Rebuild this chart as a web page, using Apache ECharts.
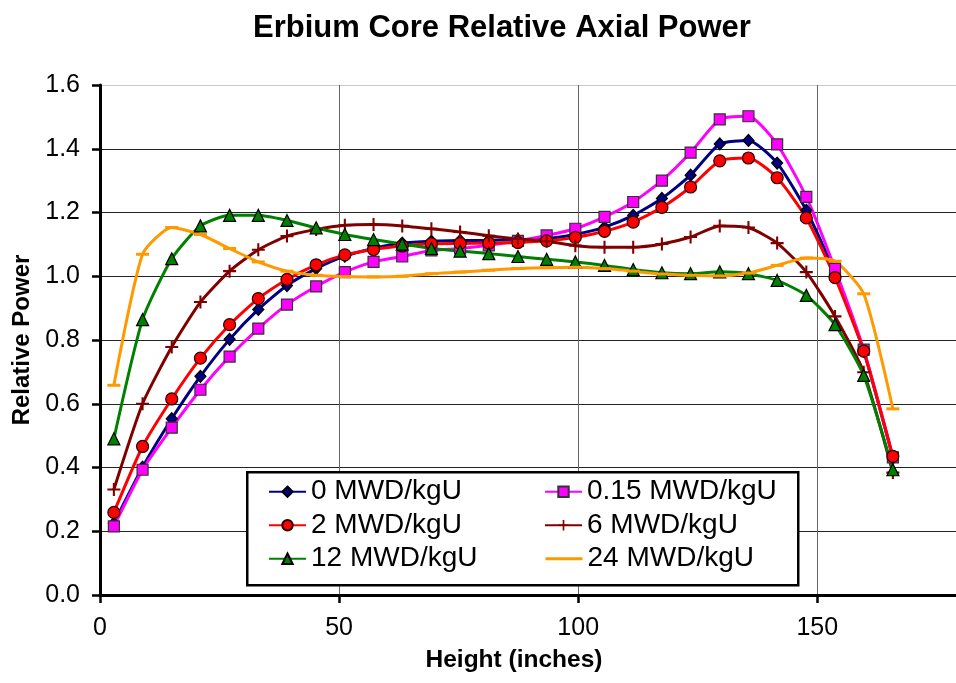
<!DOCTYPE html>
<html>
<head>
<meta charset="utf-8">
<title>Erbium Core Relative Axial Power</title>
<script src="https://cdn.jsdelivr.net/npm/echarts@6/dist/echarts.min.js"></script>
<style>
  html, body { margin: 0; padding: 0; background: #fff; }
  #chart { width: 956px; height: 683px; }
</style>
</head>
<body>
<div id="chart"></div>
<script>
// Axial node mid-heights (inches)
const heights = [2.9, 8.9, 15.0, 21.0, 27.1, 33.1, 39.1, 45.2, 51.2, 57.2, 63.2, 69.3, 75.3, 81.3,
                 87.4, 93.4, 99.4, 105.5, 111.5, 117.5, 123.5, 129.6, 135.6, 141.6, 147.7, 153.7, 159.7, 165.8];

// Relative power by burnup step
const power0 = [0.225, 0.401, 0.553, 0.686, 0.802, 0.896, 0.971, 1.024, 1.063, 1.087, 1.104, 1.110, 1.112, 1.113,
                1.115, 1.118, 1.131, 1.154, 1.191, 1.244, 1.317, 1.415, 1.426, 1.355, 1.207, 1.010, 0.765, 0.430];
const power015 = [0.215, 0.393, 0.525, 0.644, 0.748, 0.836, 0.911, 0.968, 1.013, 1.045, 1.062, 1.081, 1.087, 1.097,
                  1.111, 1.128, 1.149, 1.186, 1.233, 1.300, 1.388, 1.492, 1.502, 1.414, 1.249, 1.023, 0.770, 0.432];
const power2 = [0.259, 0.466, 0.615, 0.743, 0.848, 0.930, 0.990, 1.036, 1.067, 1.084, 1.095, 1.102, 1.103, 1.104,
                1.106, 1.111, 1.122, 1.141, 1.170, 1.216, 1.280, 1.362, 1.371, 1.309, 1.183, 0.996, 0.765, 0.435];
const power6 = [0.331, 0.600, 0.778, 0.919, 1.016, 1.083, 1.126, 1.147, 1.160, 1.162, 1.158, 1.149, 1.139, 1.127,
                1.117, 1.110, 1.096, 1.091, 1.091, 1.101, 1.123, 1.158, 1.153, 1.104, 1.013, 0.874, 0.699, 0.384];
const power12 = [0.490, 0.864, 1.055, 1.158, 1.191, 1.191, 1.175, 1.152, 1.131, 1.115, 1.101, 1.087, 1.079, 1.071,
                 1.062, 1.053, 1.045, 1.034, 1.021, 1.011, 1.008, 1.014, 1.008, 0.987, 0.940, 0.848, 0.689, 0.393];
const power24 = [0.658, 1.069, 1.153, 1.131, 1.087, 1.045, 1.016, 1.003, 0.999, 0.998, 1.000, 1.008, 1.013, 1.019,
                 1.024, 1.027, 1.028, 1.024, 1.016, 1.007, 1.003, 1.001, 1.010, 1.034, 1.057, 1.047, 0.945, 0.584];

const seriesNames = ['0 MWD/kgU', '0.15 MWD/kgU', '2 MWD/kgU', '6 MWD/kgU', '12 MWD/kgU', '24 MWD/kgU'];
const xTickStep = 50;
const yTickStep = 0.2;

const FONT = '"Liberation Sans", Arial, sans-serif';

const styles = [
  { color: '#000080', symbol: 'diamond', symbolSize: [11, 12], border: '#000', keep: false },
  { color: '#FF00FF', symbol: 'rect', symbolSize: 11, border: '#333', keep: false },
  { color: '#FF0000', symbol: 'circle', symbolSize: 12, border: '#200', keep: false },
  { color: '#800000', symbol: 'path://M4.2,0H5.8V10H4.2Z M0,4.2H10V5.8H0Z', symbolSize: 13, border: null, keep: false },
  { color: '#008000', symbol: 'triangle', symbolSize: 12, border: '#000', keep: false },
  // short horizontal dash marker
  { color: '#FF9900', symbol: 'path://M0,0H10V2.3H0Z', symbolSize: 13, border: null, keep: true }
];
const seriesValues = [power0, power015, power2, power6, power12, power24];

const series = seriesValues.map((vals, k) => {
  const s = styles[k];
  return {
    name: seriesNames[k],
    type: 'line',
    smooth: 0.2,
    data: heights.map((h, i) => [h, vals[i]]),
    symbol: s.symbol,
    symbolSize: s.symbolSize,
    symbolKeepAspect: s.keep,
    showAllSymbol: true,
    lineStyle: { color: s.color, width: 3 },
    itemStyle: {
      color: s.color,
      borderColor: s.border || s.color,
      borderWidth: s.border ? 1.2 : 0
    },
    emphasis: { disabled: true },
    z: 2
  };
});

// Legend entries; the dash marker merges into the line swatch, so only the line shows there
const legendData = seriesNames.map((name, k) => (
  styles[k].keep
    ? { name, itemStyle: { color: 'rgba(0,0,0,0)', borderColor: 'rgba(0,0,0,0)', opacity: 0 },
        lineStyle: { color: styles[k].color, width: 3 } }
    : { name }
));

const chart = echarts.init(document.getElementById('chart'), null, { renderer: 'canvas' });
chart.setOption({
  animation: false,
  backgroundColor: '#ffffff',
  title: {
    text: 'Erbium Core Relative Axial Power',
    left: 248,
    top: 8,
    textStyle: { fontFamily: FONT, fontSize: 31, fontWeight: 'bold', color: '#000' }
  },
  grid: { left: 100, right: 0, top: 85, bottom: 88, containLabel: false },
  xAxis: {
    type: 'value',
    min: 0,
    max: 179,
    interval: xTickStep,
    name: 'Height (inches)',
    nameLocation: 'middle',
    nameGap: 53,
    nameTextStyle: {
      fontFamily: FONT, fontSize: 24.5, fontWeight: 'bold', color: '#000',
      padding: [0, 28, 0, 0]
    },
    axisLine: { show: true, onZero: false, lineStyle: { color: '#000', width: 3 } },
    axisTick: { show: true, inside: false, length: 8, lineStyle: { color: '#000', width: 2.5 } },
    axisLabel: {
      margin: 21,
      fontFamily: FONT, fontSize: 25, color: '#000',
      showMaxLabel: false,
      formatter: v => (v % xTickStep === 0 ? String(v) : '')
    },
    splitLine: { show: true, lineStyle: { color: '#666', width: 1 } }
  },
  yAxis: {
    type: 'value',
    min: 0,
    max: 1.6,
    interval: yTickStep,
    name: 'Relative Power',
    nameLocation: 'middle',
    nameGap: 65,
    nameRotate: 90,
    nameTextStyle: { fontFamily: FONT, fontSize: 24, fontWeight: 'bold', color: '#000' },
    axisLine: { show: true, lineStyle: { color: '#000', width: 3 } },
    axisTick: { show: true, inside: false, length: 8, lineStyle: { color: '#000', width: 2.5 } },
    axisLabel: {
      margin: 20,
      fontFamily: FONT, fontSize: 25, color: '#000',
      formatter: v => v.toFixed(1)
    },
    splitLine: {
      show: true,
      lineStyle: {
        color: ['#222', '#222', '#222', '#222', '#222', '#222', '#222', '#222', '#c8c8c8'],
        width: 1
      }
    }
  },
  legend: {
    data: legendData,
    left: 268,
    top: 475,
    width: 560,
    orient: 'horizontal',
    padding: 0,
    itemGap: 0,
    itemWidth: 37,
    itemHeight: 13,
    selectedMode: false,
    z: 6,
    textStyle: {
      fontFamily: FONT, fontSize: 28, color: '#000',
      width: 233, lineHeight: 33.5
    }
  },
  graphic: [{
    type: 'rect',
    left: 246,
    top: 471,
    z: 5,
    shape: { width: 551, height: 113 },
    style: { fill: '#fff', stroke: '#000', lineWidth: 2.5 }
  }],
  series: series
});
</script>
</body>
</html>
